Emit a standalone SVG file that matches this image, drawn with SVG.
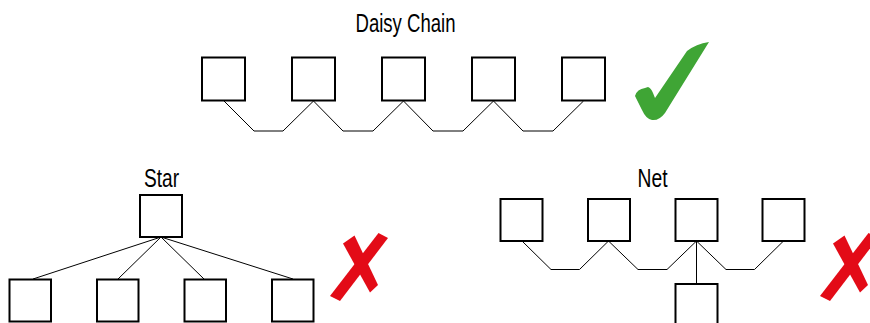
<svg xmlns="http://www.w3.org/2000/svg" width="870" height="323" viewBox="0 0 870 323">
<style>
.box{fill:#fff;stroke:#000;stroke-width:2}
.wire{fill:none;stroke:#000;stroke-width:1}
.title{font-family:"Liberation Sans",Arial,sans-serif;font-size:26px;fill:#000}
.ok{fill:#3fa535}
.no{fill:#e30b17}
</style>
<defs>
<g id="cross">
<polygon points="343,243.5 354.5,235.5 378,285 370,292.5"/>
<polygon points="378.5,233 388,238 340,301 330,296"/>
</g>
</defs>
<text class="title" x="355.5" y="31.5" textLength="100" lengthAdjust="spacingAndGlyphs">Daisy Chain</text>
<text class="title" x="144" y="186.5" textLength="35" lengthAdjust="spacingAndGlyphs">Star</text>
<text class="title" x="637.5" y="186.5" textLength="30" lengthAdjust="spacingAndGlyphs">Net</text>
<g id="connectors">
<polyline class="wire" points="224,101 254,131 283,131 313.5,101 343,131 373,131 403.5,101 433,131 463,131 493.5,101 523,131 553,131 583.5,101"/>
<line class="wire" x1="161" y1="237" x2="33" y2="279"/>
<line class="wire" x1="161" y1="237" x2="118" y2="279"/>
<line class="wire" x1="161" y1="237" x2="204" y2="279"/>
<line class="wire" x1="161" y1="237" x2="293" y2="279"/>
<polyline class="wire" points="522,241 551,269.5 579.5,269.5 608.5,241 638,269.5 667,269.5 696.5,241 726,269.5 754.5,269.5 783.5,241"/>
<line class="wire" x1="696.5" y1="241" x2="696.5" y2="284"/>
</g>
<g id="daisy1"><rect class="box" x="202" y="57.5" width="43" height="43"/></g>
<g id="daisy2"><rect class="box" x="292" y="57.5" width="43" height="43"/></g>
<g id="daisy3"><rect class="box" x="382" y="57.5" width="43" height="43"/></g>
<g id="daisy4"><rect class="box" x="472" y="57.5" width="43" height="43"/></g>
<g id="daisy5"><rect class="box" x="562" y="57.5" width="43" height="43"/></g>
<g id="star-hub"><rect class="box" x="140" y="195" width="42" height="42"/></g>
<g id="star1"><rect class="box" x="9.5" y="279.5" width="41.5" height="42"/></g>
<g id="star2"><rect class="box" x="97" y="279.5" width="41.5" height="42"/></g>
<g id="star3"><rect class="box" x="184.5" y="279.5" width="41.5" height="42"/></g>
<g id="star4"><rect class="box" x="272" y="279.5" width="41.5" height="42"/></g>
<g id="net1"><rect class="box" x="500.5" y="199" width="42" height="42"/></g>
<g id="net2"><rect class="box" x="588" y="199" width="42" height="42"/></g>
<g id="net3"><rect class="box" x="675.5" y="199" width="42" height="42"/></g>
<g id="net4"><rect class="box" x="762.5" y="199" width="42" height="42"/></g>
<g id="net5"><rect class="box" x="675.5" y="284" width="42" height="45"/></g>
<g id="check"><path class="ok" d="M635,96 Q637,89 645,88 L648,87 Q651,88 653,93 L655,98 L687,51 Q696,44 709,42 L665,113 Q659,121 652,120 Q646,119 642,110 Z"/></g>
<g id="cross-star" class="no"><use href="#cross"/></g>
<g id="cross-net" class="no"><use href="#cross" transform="translate(490,0)"/></g>
</svg>
